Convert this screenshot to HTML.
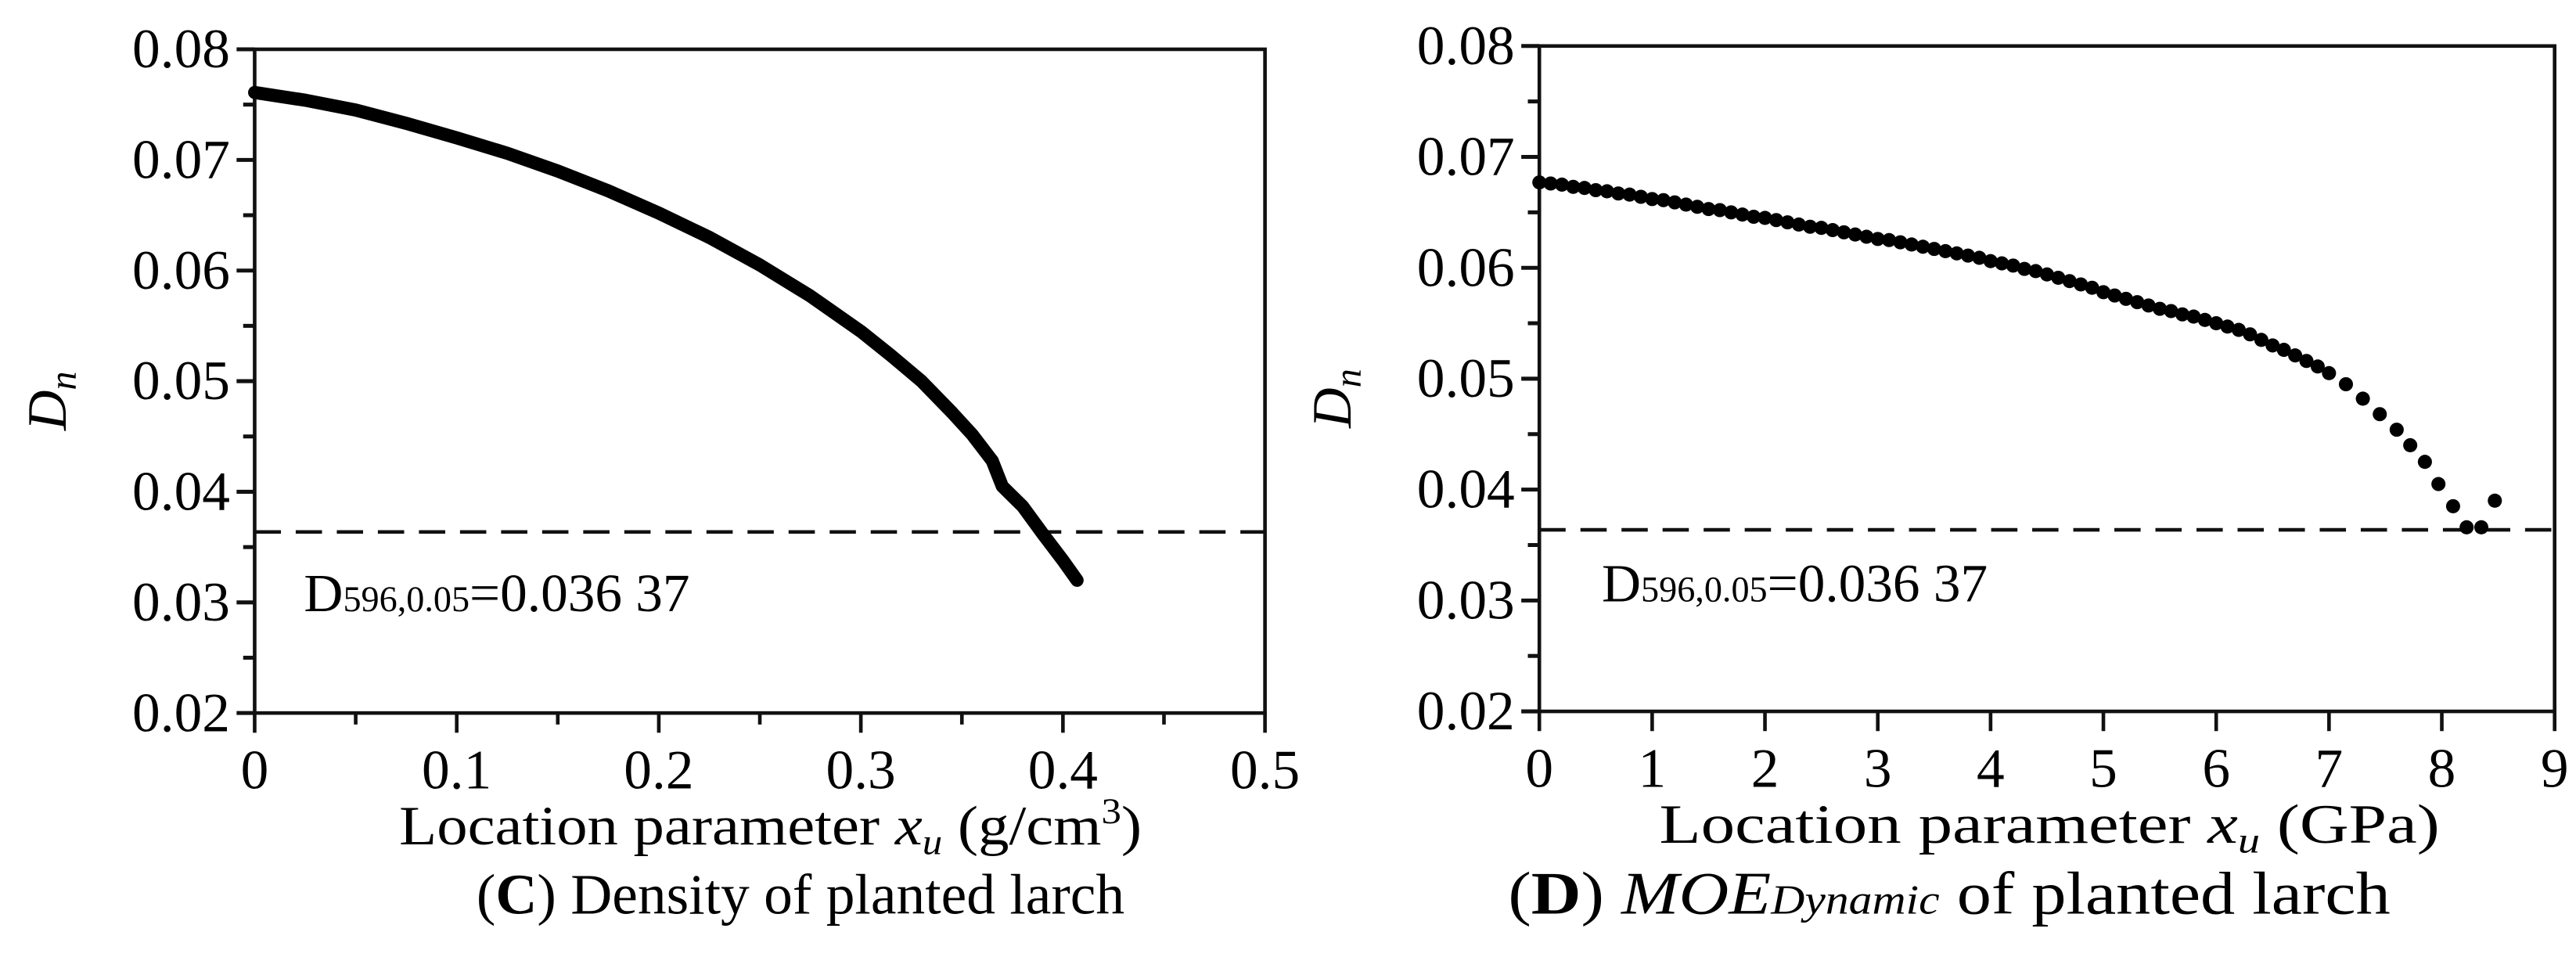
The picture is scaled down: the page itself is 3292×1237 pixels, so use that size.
<!DOCTYPE html>
<html><head><meta charset="utf-8"><style>
html,body{margin:0;padding:0;background:#fff;}
svg{display:block;font-family:"Liberation Serif",serif;}
</style></head><body>
<svg id="fig" width="3292" height="1237" viewBox="0 0 1568 589.2" xmlns="http://www.w3.org/2000/svg">
<rect width="1568" height="590" fill="#fff"/>
<g id="c"></g>
<g id="d"></g>
<text x="290" y="556" font-size="35" font-family="Liberation Serif,serif">(<tspan font-weight="bold">C</tspan>) Density of planted larch</text>
<text x="918" y="556" font-size="37" textLength="537" lengthAdjust="spacingAndGlyphs" font-family="Liberation Serif,serif">(<tspan font-weight="bold">D</tspan>) <tspan font-style="italic">MOE</tspan><tspan font-style="italic" font-size="25">Dynamic</tspan> of planted larch</text>
</svg>
<script>
// Chart C data
const cX = [0,0.025,0.05,0.075,0.1,0.125,0.15,0.175,0.2,0.225,0.25,0.275,0.3,0.315,0.33,0.345,0.355,0.365,0.37,0.38,0.39,0.4,0.407];
const cY = [0.0761,0.0754,0.0745,0.0733,0.0720,0.0706,0.0690,0.0672,0.0652,0.0630,0.0605,0.0577,0.0545,0.0523,0.0500,0.0472,0.0452,0.0428,0.0405,0.0387,0.0362,0.0338,0.0320];
const cXTicks = [0,0.1,0.2,0.3,0.4,0.5];
const cXTickLabels = ["0","0.1","0.2","0.3","0.4","0.5"];
// Chart D data
const dX = [0,0.1,0.2,0.3,0.4,0.5,0.6,0.7,0.8,0.9,1,1.1,1.2,1.3,1.4,1.5,1.6,1.7,1.8,1.9,2,2.1,2.2,2.3,2.4,2.5,2.6,2.7,2.8,2.9,3,3.1,3.2,3.3,3.4,3.5,3.6,3.7,3.8,3.9,4,4.1,4.2,4.3,4.4,4.5,4.6,4.7,4.8,4.9,5,5.1,5.2,5.3,5.4,5.5,5.6,5.7,5.8,5.9,6,6.1,6.2,6.3,6.4,6.5,6.6,6.7,6.8,6.9,7,7.15,7.3,7.45,7.6,7.72,7.85,7.97,8.1,8.22,8.35,8.47];
const dY = [.0677,.0676,.0675,.0673,.0672,.0670,.0669,.0667,.0666,.0664,
.0662,.0661,.0659,.0657,.0655,.0653,.0652,.0650,.0648,.0646,
.0645,.0643,.0641,.0639,.0637,.0636,.0634,.0632,.0630,.0628,
.0626,.0625,.0623,.0621,.0619,.0617,.0615,.0613,.0611,.0609,
.0606,.0604,.0602,.0599,.0597,.0594,.0591,.0588,.0585,.0582,
.0578,.0575,.0572,.0569,.0566,.0563,.0561,.0558,.0556,.0553,
.0550,.0547,.0544,.0540,.0535,.0530,.0526,.0521,.0516,.0511,
.0505,.0495,.0482,.0468,.0454,.0440,.0425,.0405,.0385,.0366,.0366,.0390];
const dXTicks = [0,1,2,3,4,5,6,7,8,9];
const dXTickLabels = ["0","1","2","3","4","5","6","7","8","9"];
// shared
const yTicks = [0.02,0.03,0.04,0.05,0.06,0.07,0.08];
const yTickLabels = ["0.02","0.03","0.04","0.05","0.06","0.07","0.08"];
const critical = 0.03637;
const critLabel = "0.036 37";

const NS="http://www.w3.org/2000/svg";
function mk(parent,tag,attrs){const e=document.createElementNS(NS,tag);for(const k in attrs)e.setAttribute(k,attrs[k]);parent.appendChild(e);return e;}

function chart(gid,cfg){
  const g=document.getElementById(gid);
  
  
  const sx=v=>cfg.x0+(v-cfg.xmin)/(cfg.xmax-cfg.xmin)*(cfg.x1-cfg.x0);
  const sy=v=>cfg.y1-(v-0.02)/(0.08-0.02)*(cfg.y1-cfg.y0);
  const frame=mk(g,'rect',{x:cfg.x0,y:cfg.y0,width:cfg.x1-cfg.x0,height:cfg.y1-cfg.y0,fill:'none',stroke:'#111','stroke-width':2.2});
  
  
  yTicks.forEach((t,i)=>{
    const y=sy(t);
    const l=mk(g,'line',{x1:cfg.x0-11,x2:cfg.x0,y1:y,y2:y,stroke:'#111','stroke-width':2.4});
    
    
    const tx=mk(g,'text',{x:cfg.x0-15,y:y+11,'font-size':34,'text-anchor':'end'});
    tx.textContent=yTickLabels[i];
    
    
    if(i<yTicks.length-1){
      const ym=sy(t+0.005);
      const m=mk(g,'line',{x1:cfg.x0-7,x2:cfg.x0,y1:ym,y2:ym,stroke:'#111','stroke-width':2.4});
      
      
    }
  });
  cfg.xTicks.forEach((t,i)=>{
    const x=sx(t);
    const l=mk(g,'line',{x1:x,x2:x,y1:cfg.y1,y2:cfg.y1+12,stroke:'#111','stroke-width':2.2});
    
    
    const tx=mk(g,'text',{x:x,y:cfg.y1+46,'font-size':34,'text-anchor':'middle'});
    tx.textContent=cfg.xLabels[i];
    
    
    if(cfg.minorX && i<cfg.xTicks.length-1){
      const xm=sx((t+cfg.xTicks[i+1])/2);
      const m=mk(g,'line',{x1:xm,x2:xm,y1:cfg.y1,y2:cfg.y1+7,stroke:'#111','stroke-width':2.2});
      
      
    }
  });
  const yc=sy(critical);
  const dl=mk(g,'line',{x1:cfg.x0,x2:cfg.x1,y1:yc,y2:yc,stroke:'#111','stroke-width':2.2,'stroke-dasharray':'16 9'});
  
  
  const an=mk(g,'text',{x:cfg.annX,y:cfg.annY,'font-size':33});
  an.innerHTML='D<tspan font-size="22">596,0.05</tspan>='+critLabel;
  
  
  const yt=mk(g,'text',{x:0,y:0,'font-size':34,'font-style':'italic',transform:`translate(${cfg.yTitleX},${(cfg.y0+cfg.y1)/2+12}) rotate(-90)`,'text-anchor':'middle'});
  yt.innerHTML='D<tspan font-size="23" dy="6">n</tspan>';
  
  
  const xt=mk(g,'text',{x:cfg.xtX,y:cfg.y1+80,'font-size':34,textLength:cfg.xtLen,lengthAdjust:'spacingAndGlyphs'});
  xt.innerHTML=cfg.xTitle;
  
  
  if(cfg.line){
    const p=cfg.xs.map((v,i)=>(i?'L':'M')+sx(v).toFixed(1)+','+sy(cfg.ys[i]).toFixed(1)).join('');
    const path=mk(g,'path',{d:p,fill:'none',stroke:'#000','stroke-width':8,'stroke-linecap':'round','stroke-linejoin':'round'});
    
    
  } else {
    cfg.xs.forEach((v,i)=>{
      const c=mk(g,'circle',{cx:sx(v),cy:sy(cfg.ys[i]),r:4.3,fill:'#000'});
      
      
    });
  }
}
chart('c',{name:'chart-density',x0:155,x1:770,y0:30,y1:434,xmin:0,xmax:0.5,xTicks:cXTicks,xLabels:cXTickLabels,minorX:true,
  xs:cX,ys:cY,line:true,annX:185,annY:372,yTitleX:40,xtX:243,xtLen:452,
  xTitle:'Location parameter <tspan font-style="italic">x</tspan><tspan font-style="italic" font-size="22" dy="6">u</tspan><tspan dy="-6">  (g/cm</tspan><tspan font-size="22" dy="-13">3</tspan><tspan dy="13">)</tspan>'});
chart('d',{name:'chart-moe-dynamic',x0:937,x1:1555,y0:28,y1:433,xmin:0,xmax:9,xTicks:dXTicks,xLabels:dXTickLabels,minorX:false,
  xs:dX,ys:dY,line:false,annX:975,annY:366,yTitleX:822,xtX:1010,xtLen:475,
  xTitle:'Location parameter <tspan font-style="italic">x</tspan><tspan font-style="italic" font-size="22" dy="6">u</tspan><tspan dy="-6"> (GPa)</tspan>'});
</script>
</body></html>
